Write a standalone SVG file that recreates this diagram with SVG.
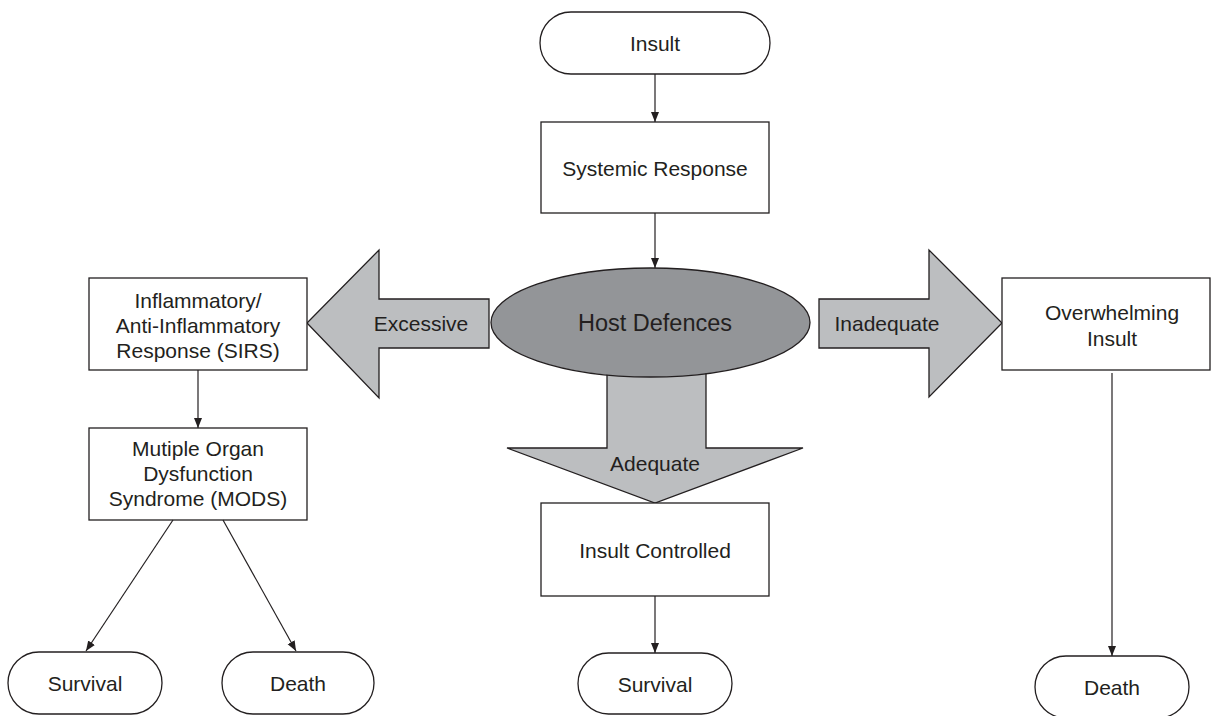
<svg xmlns="http://www.w3.org/2000/svg" width="1217" height="716" viewBox="0 0 1217 716">
  <defs>
    <marker id="arr" viewBox="0 0 10 10" refX="10" refY="5" markerWidth="10" markerHeight="10" markerUnits="userSpaceOnUse" orient="auto">
      <path d="M0,1 L10,5 L0,9 Z" fill="#231f20"/>
    </marker>
    <style>
      .box { fill: #ffffff; stroke: #231f20; stroke-width: 1.3; }
      .big { fill: #bcbec0; stroke: #231f20; stroke-width: 1.3; stroke-linejoin: miter; }
      .ell { fill: #939598; stroke: #231f20; stroke-width: 1.3; }
      .lbl { font-family: "Liberation Sans", Arial, sans-serif; font-size: 21px; fill: #231f20; text-anchor: middle; dominant-baseline: central; }
      .hd { font-size: 23.5px; }
      .edge { stroke: #231f20; stroke-width: 1.2; fill: none; marker-end: url(#arr); }
    </style>
  </defs>
  <rect width="1217" height="716" fill="#ffffff"/>

  <!-- block arrows out of the host defences -->
  <g id="arrow-excessive">
    <polygon class="big" points="489,299 379,299 379,250 307,323 379,398 379,348 489,348"/>
    <text class="lbl" x="421" y="323">Excessive</text>
  </g>
  <g id="arrow-inadequate">
    <polygon class="big" points="819,299 929,299 929,250 1002,323 929,397 929,348 819,348"/>
    <text class="lbl" x="887" y="323">Inadequate</text>
  </g>
  <g id="arrow-adequate">
    <polygon class="big" points="607,365 706,365 706,448 803,448 655,503 507,448 607,448"/>
    <text class="lbl" x="655" y="463">Adequate</text>
  </g>

  <g id="host-defences">
    <ellipse class="ell" cx="650.5" cy="322.5" rx="159.5" ry="54.5"/>
    <text class="lbl hd" x="655" y="323">Host Defences</text>
  </g>

  <g id="insult">
    <rect class="box" x="540" y="12" width="230" height="62" rx="31" ry="31"/>
    <text class="lbl" x="655" y="43">Insult</text>
  </g>
  <g id="systemic-response">
    <rect class="box" x="541" y="122" width="228" height="91"/>
    <text class="lbl" x="655" y="168">Systemic Response</text>
  </g>
  <g id="sirs">
    <rect class="box" x="89" y="278" width="218" height="92"/>
    <text class="lbl" x="198" y="300">Inflammatory/</text>
    <text class="lbl" x="198" y="325">Anti-Inflammatory</text>
    <text class="lbl" x="198" y="350">Response (SIRS)</text>
  </g>
  <g id="mods">
    <rect class="box" x="89" y="428" width="218" height="92"/>
    <text class="lbl" x="198" y="448">Mutiple Organ</text>
    <text class="lbl" x="198" y="473">Dysfunction</text>
    <text class="lbl" x="198" y="498">Syndrome (MODS)</text>
  </g>
  <g id="overwhelming-insult">
    <rect class="box" x="1002" y="278" width="208" height="92"/>
    <text class="lbl" x="1112" y="312">Overwhelming</text>
    <text class="lbl" x="1112" y="338">Insult</text>
  </g>
  <g id="insult-controlled">
    <rect class="box" x="541" y="503" width="228" height="93"/>
    <text class="lbl" x="655" y="550">Insult Controlled</text>
  </g>
  <g id="survival-left">
    <rect class="box" x="8" y="652" width="154" height="62" rx="31" ry="31"/>
    <text class="lbl" x="85" y="683">Survival</text>
  </g>
  <g id="death-left">
    <rect class="box" x="222" y="652" width="152" height="62" rx="31" ry="31"/>
    <text class="lbl" x="298" y="683">Death</text>
  </g>
  <g id="survival-center">
    <rect class="box" x="578" y="653" width="154" height="61" rx="30.5" ry="30.5"/>
    <text class="lbl" x="655" y="684">Survival</text>
  </g>
  <g id="death-right">
    <rect class="box" x="1035" y="656" width="154" height="62" rx="31" ry="31"/>
    <text class="lbl" x="1112" y="687">Death</text>
  </g>

  <!-- plain connectors -->
  <g id="connectors">
    <line class="edge" x1="655" y1="74" x2="655" y2="122"/>
    <line class="edge" x1="655" y1="213" x2="655" y2="268"/>
    <line class="edge" x1="198" y1="370" x2="198" y2="428"/>
    <line class="edge" x1="173" y1="520" x2="86" y2="651"/>
    <line class="edge" x1="223" y1="520" x2="296" y2="651"/>
    <line class="edge" x1="655" y1="596" x2="655" y2="653"/>
    <line class="edge" x1="1112" y1="373" x2="1112" y2="656"/>
  </g>
</svg>
